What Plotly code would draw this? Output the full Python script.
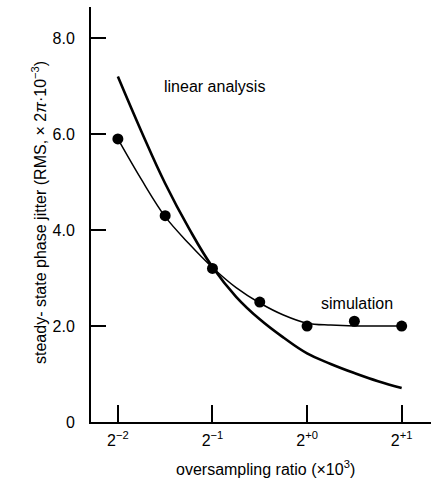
import math
import plotly.graph_objects as go

# oversampling ratio exponents (ratio = 2**exp, x10^3)
sim_point_exp = [-2, -1.5, -1, -0.5, 0, 0.5, 1]
sim_point_val = [5.9, 4.3, 3.2, 2.5, 2.0, 2.1, 2.0]

curve_exp = [-2, -1.75, -1.5, -1.25, -1, -0.75, -0.5, -0.25, 0, 0.25, 0.5, 0.75, 1]
sim_curve_val = [5.9, 5.05, 4.28, 3.72, 3.22, 2.8, 2.48, 2.23, 2.06, 2.02, 2.0, 2.0, 2.0]
lin_curve_val = [7.2, 6.05, 4.97, 4.04, 3.23, 2.61, 2.14, 1.76, 1.43, 1.21, 1.02, 0.85, 0.71]

x_tick_exp = [-2, -1, 0, 1]
x_tick_text = ["2<sup>−2</sup>", "2<sup>−1</sup>", "2<sup>+0</sup>", "2<sup>+1</sup>"]
y_tick_vals = [0, 2, 4, 6, 8]
y_tick_text = ["0", "2.0", "4.0", "6.0", "8.0"]

def r(e):
    return 2.0 ** e

FONT = "Liberation Sans, Arial, sans-serif"
FS = 16

fig = go.Figure()
fig.add_trace(go.Scatter(
    x=[r(e) for e in curve_exp], y=lin_curve_val, mode="lines",
    line=dict(color="black", width=2.6, shape="spline", smoothing=1.2), hoverinfo="skip"))
fig.add_trace(go.Scatter(
    x=[r(e) for e in curve_exp], y=sim_curve_val, mode="lines",
    line=dict(color="black", width=1.5, shape="spline"), hoverinfo="skip"))
fig.add_trace(go.Scatter(
    x=[r(e) for e in sim_point_exp], y=sim_point_val, mode="markers",
    marker=dict(color="black", size=11), hoverinfo="skip"))

fig.update_layout(
    width=431, height=492,
    margin=dict(l=91, r=0, t=7, b=70),
    paper_bgcolor="white", plot_bgcolor="white",
    showlegend=False,
    font=dict(family=FONT, size=FS, color="black"),
    xaxis=dict(
        type="log",
        range=[math.log10(r(-2.284)), math.log10(r(1.31))],
        tickvals=[r(e) for e in x_tick_exp], ticktext=x_tick_text,
        ticks="inside", ticklen=17, tickwidth=1.5, tickcolor="black",
        showline=True, linecolor="black", linewidth=2,
        showgrid=False, zeroline=False,
        ticklabelstandoff=3,
        tickfont=dict(size=FS),
    ),
    yaxis=dict(
        range=[0, 8.65],
        tickvals=y_tick_vals, ticktext=y_tick_text,
        ticks="inside", ticklen=15, tickwidth=1.5, tickcolor="black",
        showline=True, linecolor="black", linewidth=2,
        showgrid=False, zeroline=False,
        ticklabelstandoff=11,
        tickfont=dict(size=FS),
    ),
    annotations=[
        dict(x=math.log10(r(-0.979)), y=7.0, xref="x", yref="y",
             text="linear analysis", showarrow=False,
             font=dict(size=FS)),
        dict(x=math.log10(r(0.526)), y=2.48, xref="x", yref="y",
             text="simulation", showarrow=False,
             font=dict(size=FS)),
        dict(x=265, y=480, xref="paper", yref="paper",
             text="oversampling ratio (×10<sup>3</sup>)", showarrow=False,
             font=dict(size=FS)),
        dict(x=27, y=213, xref="paper", yref="paper",
             text="steady- state phase jitter (RMS, × 2<i>π</i>·10<sup>−3</sup>)",
             showarrow=False, textangle=-90, font=dict(size=FS)),
    ],
)

# convert pixel-based annotation positions to paper coordinates
plot_w = 431 - 91
plot_h = 492 - 7 - 70
anns = list(fig.layout.annotations)
for a in anns[2:]:
    px, py = a.x, a.y
    a.x = (px - 91) / plot_w
    a.y = (492 - 70 - py) / plot_h
fig.layout.annotations = anns

fig.write_html("out.html")
